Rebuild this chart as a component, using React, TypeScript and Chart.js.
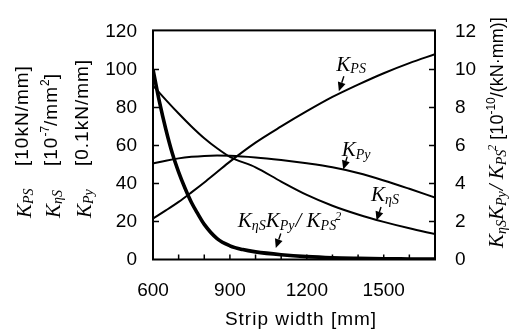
import React, { useEffect, useRef } from 'react';
import { Chart, registerables } from 'chart.js';

Chart.register(...registerables);

// ---- data ----
const widths = [600, 650, 700, 750, 800, 850, 900, 1000, 1100, 1200, 1300, 1400, 1500, 1600, 1700];
const kPS = [21.5, 25.8, 30.3, 35.3, 40.5, 46, 51.5, 61.5, 70, 78, 85.5, 92, 98, 103.3, 108];
const kPy = [50.5, 52, 53.2, 54, 54.5, 54.7, 54.6, 53.7, 52.3, 50.6, 48.5, 45.5, 41.6, 37.2, 32.6];
const kEtaS = [91.5, 84, 76.8, 70, 63.8, 58.5, 54, 48.5, 41, 34, 28.3, 23.7, 19.8, 16.4, 13.4];
const ratioWidths = [600, 625, 650, 675, 700, 725, 750, 775, 800, 850, 900, 950, 1000, 1100, 1200, 1300, 1400, 1500, 1600, 1700];
const ratio = [10.0, 8.3, 6.85, 5.6, 4.6, 3.75, 3.0, 2.4, 1.85, 1.1, 0.72, 0.52, 0.4, 0.25, 0.15, 0.09, 0.06, 0.04, 0.03, 0.02];

const xTickLabels = [600, 900, 1200, 1500];
const xMinorTicks = [700, 800, 900, 1000, 1100, 1200, 1300, 1400, 1500, 1600];
const leftTicks = [20, 40, 60, 80, 100];
const rightTicks = [2, 4, 6, 8, 10];

const SANS = '"Liberation Sans", Arial, sans-serif';
const SERIF = '"Liberation Serif", "Times New Roman", serif';

type Seg = { t: string; f: string; dy?: number; dx?: number; ls?: number };

const K = `italic 21px ${SERIF}`;
const SUB = `italic 14px ${SERIF}`;
const SUP = `italic 12px ${SERIF}`;
const BR = `19px ${SANS}`;
const BRR = `18px ${SANS}`;
const BRSUP = `12px ${SANS}`;

function drawRich(ctx: CanvasRenderingContext2D, segs: Seg[], x: number, y: number) {
  let cx = x;
  for (const s of segs) {
    ctx.font = s.f;
    (ctx as any).letterSpacing = (s.ls ?? 0) + 'px';
    cx += s.dx ?? 0;
    ctx.fillText(s.t, cx, y + (s.dy ?? 0));
    cx += ctx.measureText(s.t).width;
  }
  (ctx as any).letterSpacing = '0px';
}

function drawRotated(ctx: CanvasRenderingContext2D, segs: Seg[], baseX: number, startY: number) {
  ctx.save();
  ctx.translate(baseX, startY);
  ctx.rotate(-Math.PI / 2);
  drawRich(ctx, segs, 0, 0);
  ctx.restore();
}

function arrow(ctx: CanvasRenderingContext2D, x1: number, y1: number, x2: number, y2: number) {
  const ang = Math.atan2(y2 - y1, x2 - x1);
  const hl = 9, hw = 4;
  const bx = x2 - hl * Math.cos(ang), by = y2 - hl * Math.sin(ang);
  ctx.beginPath();
  ctx.lineWidth = 1.4;
  ctx.moveTo(x1, y1);
  ctx.lineTo(bx, by);
  ctx.stroke();
  ctx.beginPath();
  ctx.moveTo(x2, y2);
  ctx.lineTo(bx + hw * Math.sin(ang), by - hw * Math.cos(ang));
  ctx.lineTo(bx - hw * Math.sin(ang), by + hw * Math.cos(ang));
  ctx.closePath();
  ctx.fill();
}

const decorPlugin = {
  id: 'decor',
  afterDraw(chart: any) {
    const { ctx, chartArea: a, scales } = chart;
    const sx = scales.x, sy = scales.y, sy2 = scales.y2;
    ctx.save();
    ctx.strokeStyle = '#000';
    ctx.fillStyle = '#000';
    ctx.lineWidth = 2;
    ctx.strokeRect(a.left, a.top - 1, a.right - a.left, a.bottom - a.top + 1);

    ctx.lineWidth = 1.5;
    ctx.beginPath();
    for (const v of xMinorTicks) {
      const px = sx.getPixelForValue(v);
      ctx.moveTo(px, a.bottom);
      ctx.lineTo(px, a.bottom - 5);
    }
    for (const v of leftTicks) {
      const py = sy.getPixelForValue(v);
      ctx.moveTo(a.left, py);
      ctx.lineTo(a.left + 6, py);
    }
    for (const v of rightTicks) {
      const py = sy2.getPixelForValue(v);
      ctx.moveTo(a.right, py);
      ctx.lineTo(a.right - 6, py);
    }
    ctx.stroke();

    ctx.textBaseline = 'alphabetic';
    ctx.textAlign = 'left';

    // annotations: arrow tips anchored on the curves (data coords)
    const tipPS = { x: sx.getPixelForValue(1325), y: sy.getPixelForValue(88.5) };
    drawRich(ctx, [{ t: 'K', f: K }, { t: 'PS', f: SUB, dy: 2 }], tipPS.x - 2.5, tipPS.y - 20);
    arrow(ctx, tipPS.x + 5, tipPS.y - 15, tipPS.x, tipPS.y);

    const tipPy = { x: sx.getPixelForValue(1342), y: sy.getPixelForValue(47.3) };
    drawRich(ctx, [{ t: 'K', f: K }, { t: 'Py', f: SUB, dy: 3 }], tipPy.x - 1.5, tipPy.y - 14);
    arrow(ctx, tipPy.x + 4, tipPy.y - 13, tipPy.x, tipPy.y);

    const tipES = { x: sx.getPixelForValue(1472), y: sy.getPixelForValue(20.5) };
    drawRich(ctx, [{ t: 'K', f: K }, { t: '\u03b7S', f: SUB, dy: 3 }], tipES.x - 5.5, tipES.y - 20);
    arrow(ctx, tipES.x + 4.5, tipES.y - 13.5, tipES.x, tipES.y);

    const tipR = { x: sx.getPixelForValue(1079), y: sy2.getPixelForValue(0.6) };
    drawRich(ctx, [
      { t: 'K', f: K }, { t: '\u03b7S', f: SUB, dy: 3 },
      { t: 'K', f: K }, { t: 'Py', f: SUB, dy: 3 },
      { t: '/ ', f: K, dx: 1 },
      { t: 'K', f: K }, { t: 'PS', f: SUB, dy: 3 },
      { t: '2', f: SUP, dy: -7, dx: -1 },
    ], tipR.x - 38, tipR.y - 21);
    arrow(ctx, tipR.x + 5, tipR.y - 14.5, tipR.x, tipR.y);

    // left axis titles (three rotated columns)
    const cols: { kSegs: Seg[]; brSegs: Seg[]; kBase: number; brBase: number }[] = [
      {
        kSegs: [{ t: 'K', f: K }, { t: 'PS', f: SUB, dy: 2 }],
        brSegs: [{ t: '[10kN/mm]', f: BR, ls: 1 }],
        kBase: 31, brBase: 28,
      },
      {
        kSegs: [{ t: 'K', f: K }, { t: '\u03b7S', f: SUB, dy: 2 }],
        brSegs: [
          { t: '[10', f: BR, ls: 1 }, { t: '-7', f: BRSUP, dy: -8 },
          { t: '/mm', f: BR, ls: 1 }, { t: '2', f: BRSUP, dy: -8 }, { t: ']', f: BR },
        ],
        kBase: 60, brBase: 57,
      },
      {
        kSegs: [{ t: 'K', f: K }, { t: 'Py', f: SUB, dy: 2 }],
        brSegs: [{ t: '[0.1kN/mm]', f: BR, ls: 1 }],
        kBase: 91, brBase: 88,
      },
    ];
    for (const c of cols) {
      drawRotated(ctx, c.kSegs, c.kBase, 218);
      drawRotated(ctx, c.brSegs, c.brBase, 166);
    }

    // right axis title
    drawRotated(ctx, [
      { t: 'K', f: K }, { t: '\u03b7S', f: SUB, dy: 3 },
      { t: 'K', f: K }, { t: 'Py', f: SUB, dy: 3 },
      { t: '/ ', f: K, dx: 1 },
      { t: 'K', f: K }, { t: 'PS', f: SUB, dy: 3 },
      { t: '2', f: SUP, dy: -7, dx: -1 },
      { t: '[10', f: BRR, dx: 5 }, { t: '-10', f: BRSUP, dy: -8 },
      { t: '/(kN\u00b7mm)]', f: BRR },
    ], 503, 248);

    // x axis title
    ctx.font = `19px ${SANS}`;
    (ctx as any).letterSpacing = '1px';
    ctx.textAlign = 'center';
    ctx.fillText('Strip width [mm]', (a.left + a.right) / 2 + 7, 325);
    (ctx as any).letterSpacing = '0px';

    ctx.restore();
  },
};

export default function App() {
  const ref = useRef<HTMLCanvasElement | null>(null);

  useEffect(() => {
    document.body.style.margin = '0';
    const canvas = ref.current;
    if (!canvas) return;
    const tickFont = { family: SANS, size: 19 };
    const plain = (v: any) => String(v);
    const line = (xs: number[], ys: number[], width: number, axis: string) => ({
      data: xs.map((x, i) => ({ x, y: ys[i] })),
      borderColor: '#000',
      borderWidth: width,
      pointRadius: 0,
      fill: false,
      cubicInterpolationMode: 'monotone' as const,
      yAxisID: axis,
    });
    const chart = new Chart(canvas, {
      type: 'line',
      data: {
        datasets: [
          { label: 'K_PS', ...line(widths, kPS, 2, 'y') },
          { label: 'K_Py', ...line(widths, kPy, 2, 'y') },
          { label: 'K_etaS', ...line(widths, kEtaS, 2, 'y') },
          { label: 'ratio', ...line(ratioWidths, ratio, 3.6, 'y2') },
        ],
      },
      options: {
        responsive: false,
        animation: false,
        devicePixelRatio: 1,
        layout: { padding: { top: 19.5, left: 0, right: 0, bottom: 0 } },
        plugins: { legend: { display: false }, tooltip: { enabled: false } },
        scales: {
          x: {
            type: 'linear',
            min: 600,
            max: 1700,
            afterBuildTicks: (s: any) => { s.ticks = xTickLabels.map((v) => ({ value: v })); },
            ticks: { font: tickFont, color: '#000', padding: 20, maxRotation: 0, autoSkip: false, callback: plain },
            grid: { display: false, drawTicks: false },
            border: { display: false },
            afterFit: (s: any) => { s.height = 69.5; },
          },
          y: {
            position: 'left',
            min: 0,
            max: 120,
            ticks: { stepSize: 20, font: tickFont, color: '#000', padding: 16, callback: plain },
            grid: { display: false, drawTicks: false },
            border: { display: false },
            afterFit: (s: any) => { s.width = 153; },
          },
          y2: {
            position: 'right',
            min: 0,
            max: 12,
            ticks: { stepSize: 2, font: tickFont, color: '#000', padding: 20, callback: plain },
            grid: { display: false, drawTicks: false },
            border: { display: false },
            afterFit: (s: any) => { s.width = 74; },
          },
        },
      },
      plugins: [decorPlugin],
    });
    return () => chart.destroy();
  }, []);

  return (
    <div style={{ position: 'absolute', left: 0, top: 0, width: 509, height: 329, background: '#fff' }}>
      <canvas ref={ref} width={509} height={329} style={{ display: 'block' }} />
    </div>
  );
}
